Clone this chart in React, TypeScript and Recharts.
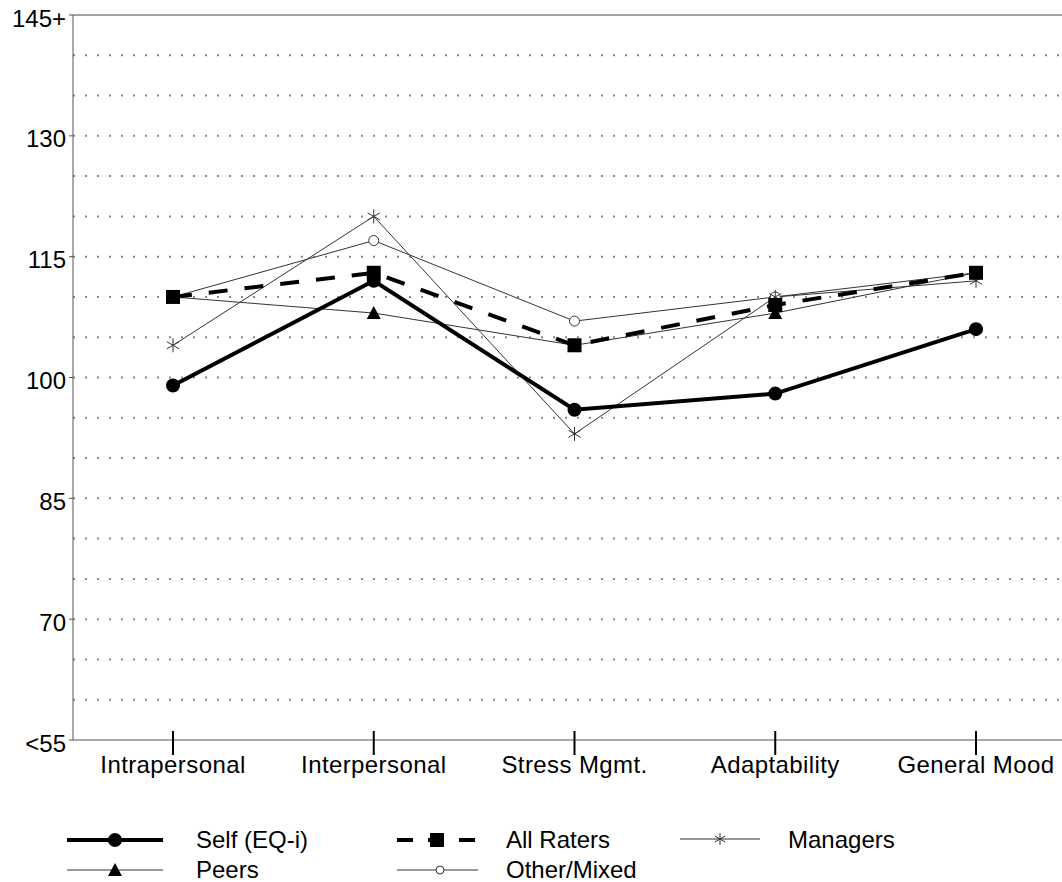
import React from "react";
import { LineChart, Line, XAxis, YAxis, ReferenceLine, Legend } from "recharts";

const categories = ["Intrapersonal", "Interpersonal", "Stress Mgmt.", "Adaptability", "General Mood"];
const selfScores = [99, 112, 96, 98, 106];
const allRaters = [110, 113, 104, 109, 113];
const managers = [104, 120, 93, 110, 112];
const peers = [110, 108, 104, 108, 113];
const otherMixed = [110, 117, 107, 110, 113];
const yTicks = [55, 70, 85, 100, 115, 130, 145];
const gridLevels = [60, 65, 70, 75, 80, 85, 90, 95, 100, 105, 110, 115, 120, 125, 130, 135, 140];

const data = categories.map((name, i) => ({
  name,
  self: selfScores[i],
  all: allRaters[i],
  managers: managers[i],
  peers: peers[i],
  other: otherMixed[i],
}));

const FONT = "'Liberation Sans', Arial, sans-serif";

const Circle = ({ cx, cy }: any) => <circle cx={cx} cy={cy} r={7} fill="#000" />;
const Square = ({ cx, cy }: any) => <rect x={cx - 7} y={cy - 7} width={14} height={14} fill="#000" />;
const Triangle = ({ cx, cy }: any) => (
  <path d={`M${cx},${cy - 7} L${cx + 7},${cy + 6} L${cx - 7},${cy + 6} Z`} fill="#000" />
);
const OpenCircle = ({ cx, cy, r = 5 }: any) => (
  <circle cx={cx} cy={cy} r={r} fill="#fff" stroke="#333" strokeWidth={1} />
);
const Star = ({ cx, cy, s = 7 }: any) => (
  <g stroke="#333" strokeWidth={1}>
    <line x1={cx} y1={cy - s} x2={cx} y2={cy + s} />
    <line x1={cx - s * 0.87} y1={cy - s / 2} x2={cx + s * 0.87} y2={cy + s / 2} />
    <line x1={cx - s * 0.87} y1={cy + s / 2} x2={cx + s * 0.87} y2={cy - s / 2} />
  </g>
);

const dotOf = (Comp: any) => (props: any) =>
  <Comp key={`${props.dataKey}-${props.index}`} cx={props.cx} cy={props.cy} />;

const XTick = ({ x, y, payload }: any) => (
  <g>
    <line x1={x} y1={y - 9} x2={x} y2={y + 15} stroke="#000" strokeWidth={2} />
    <text x={x} y={y + 33} textAnchor="middle" fontSize={24} letterSpacing={0.4} fontFamily={FONT} fill="#000">
      {payload.value}
    </text>
  </g>
);

const yLabel = (v: number) => (v === 55 ? "<55" : v === 145 ? "145+" : String(v));

const LegendBox = () => (
  <svg width={1062} height={62} style={{ overflow: "visible" }}>
    <g fontFamily={FONT} fontSize={24} fill="#000">
      {/* row 1 */}
      <line x1={67} y1={20} x2={163} y2={20} stroke="#000" strokeWidth={4} />
      <Circle cx={115} cy={20} />
      <text x={196} y={28}>Self (EQ-i)</text>
      <line x1={397} y1={20} x2={475} y2={20} stroke="#000" strokeWidth={4} strokeDasharray="16 15" />
      <Square cx={437} cy={20} />
      <text x={506} y={28}>All Raters</text>
      <line x1={680} y1={19} x2={760} y2={19} stroke="#333" strokeWidth={1} />
      <Star cx={720} cy={19} s={6} />
      <text x={788} y={28}>Managers</text>
      {/* row 2 */}
      <line x1={67} y1={50} x2={163} y2={50} stroke="#333" strokeWidth={1} />
      <Triangle cx={115} cy={50} />
      <text x={196} y={58}>Peers</text>
      <line x1={397} y1={50} x2={478} y2={50} stroke="#333" strokeWidth={1} />
      <OpenCircle cx={440} cy={50} r={4} />
      <text x={506} y={58}>Other/Mixed</text>
    </g>
  </svg>
);

export default function App() {
  return (
    <div style={{ position: "absolute", left: 0, top: 0, width: 1062, height: 882, overflow: "hidden", background: "#fff" }}>
      <LineChart width={1080} height={882} data={data} margin={{ top: 15, right: 4, bottom: 0, left: 0 }}>
        {gridLevels.map((v) => (
          <ReferenceLine key={v} y={v} stroke="#888" strokeWidth={2} strokeDasharray="2 10" />
        ))}
        <ReferenceLine y={145} stroke="#444" strokeWidth={1} />
        <XAxis
          dataKey="name"
          height={80}
          interval={0}
          padding={{ left: 100, right: 100 }}
          tickSize={0}
          tickMargin={0}
          axisLine={{ stroke: "#555" }}
          tick={<XTick />}
        />
        <YAxis
          width={73}
          domain={[55, 145]}
          ticks={yTicks}
          interval={0}
          tickFormatter={yLabel}
          tickSize={4}
          tickMargin={3}
          axisLine={{ stroke: "#555" }}
          tickLine={{ stroke: "#555" }}
          tick={{ fontSize: 24, fontFamily: FONT, fill: "#000", dy: 3 }}
        />
        <Legend
          verticalAlign="bottom"
          content={<LegendBox />}
          wrapperStyle={{ left: 0, bottom: 0, width: 1062, height: 62 }}
        />
        <Line dataKey="peers" name="Peers" stroke="#333" strokeWidth={1} dot={dotOf(Triangle)} isAnimationActive={false} />
        <Line dataKey="other" name="Other/Mixed" stroke="#333" strokeWidth={1} dot={dotOf(OpenCircle)} isAnimationActive={false} />
        <Line dataKey="managers" name="Managers" stroke="#333" strokeWidth={1} dot={dotOf(Star)} isAnimationActive={false} />
        <Line dataKey="self" name="Self (EQ-i)" stroke="#000" strokeWidth={4} dot={dotOf(Circle)} isAnimationActive={false} />
        <Line
          dataKey="all"
          name="All Raters"
          stroke="#000"
          strokeWidth={4}
          strokeDasharray="19 17"
          dot={dotOf(Square)}
          isAnimationActive={false}
        />
      </LineChart>
    </div>
  );
}
